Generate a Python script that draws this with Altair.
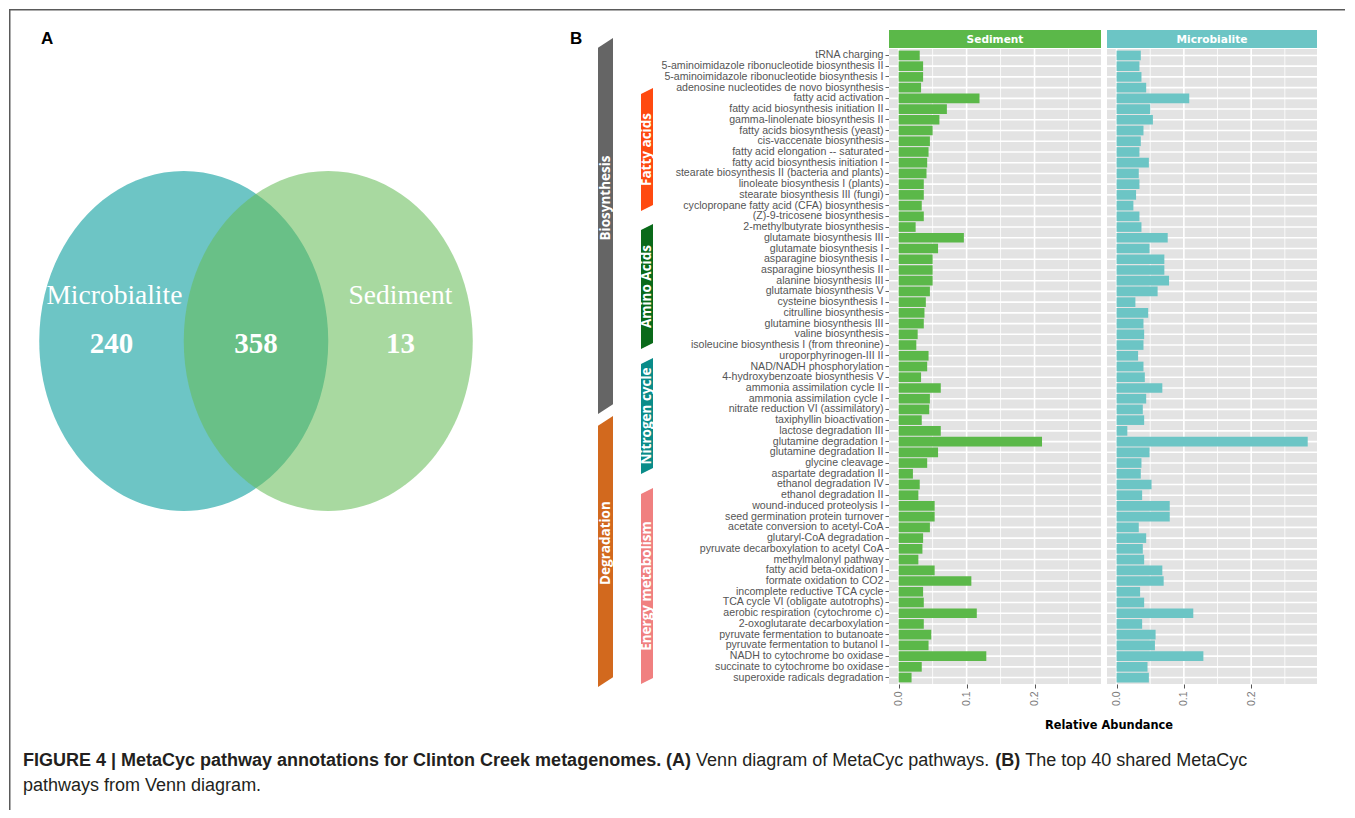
import altair as alt
import pandas as pd

# ---------------- data ----------------
pathways = [
    "tRNA charging",
    "5-aminoimidazole ribonucleotide biosynthesis II",
    "5-aminoimidazole ribonucleotide biosynthesis I",
    "adenosine nucleotides de novo biosynthesis",
    "fatty acid activation",
    "fatty acid biosynthesis initiation II",
    "gamma-linolenate biosynthesis II",
    "fatty acids biosynthesis (yeast)",
    "cis-vaccenate biosynthesis",
    "fatty acid elongation -- saturated",
    "fatty acid biosynthesis initiation I",
    "stearate biosynthesis II (bacteria and plants)",
    "linoleate biosynthesis I (plants)",
    "stearate biosynthesis III (fungi)",
    "cyclopropane fatty acid (CFA) biosynthesis",
    "(Z)-9-tricosene biosynthesis",
    "2-methylbutyrate biosynthesis",
    "glutamate biosynthesis III",
    "glutamate biosynthesis I",
    "asparagine biosynthesis I",
    "asparagine biosynthesis II",
    "alanine biosynthesis III",
    "glutamate biosynthesis V",
    "cysteine biosynthesis I",
    "citrulline biosynthesis",
    "glutamine biosynthesis III",
    "valine biosynthesis",
    "isoleucine biosynthesis I (from threonine)",
    "uroporphyrinogen-III II",
    "NAD/NADH phosphorylation",
    "4-hydroxybenzoate biosynthesis V",
    "ammonia assimilation cycle II",
    "ammonia assimilation cycle I",
    "nitrate reduction VI (assimilatory)",
    "taxiphyllin bioactivation",
    "lactose degradation III",
    "glutamine degradation I",
    "glutamine degradation II",
    "glycine cleavage",
    "aspartate degradation II",
    "ethanol degradation IV",
    "ethanol degradation II",
    "wound-induced proteolysis I",
    "seed germination protein turnover",
    "acetate conversion to acetyl-CoA",
    "glutaryl-CoA degradation",
    "pyruvate decarboxylation to acetyl CoA",
    "methylmalonyl pathway",
    "fatty acid beta-oxidation I",
    "formate oxidation to CO2",
    "incomplete reductive TCA cycle",
    "TCA cycle VI (obligate autotrophs)",
    "aerobic respiration (cytochrome c)",
    "2-oxoglutarate decarboxylation",
    "pyruvate fermentation to butanoate",
    "pyruvate fermentation to butanol I",
    "NADH to cytochrome bo oxidase",
    "succinate to cytochrome bo oxidase",
    "superoxide radicals degradation",
]

sediment = [
    0.031, 0.036, 0.036, 0.033, 0.119, 0.071, 0.060, 0.050, 0.046, 0.044,
    0.042, 0.041, 0.037, 0.037, 0.034, 0.037, 0.025, 0.096, 0.058, 0.050,
    0.050, 0.050, 0.046, 0.040, 0.038, 0.037, 0.028, 0.026, 0.044, 0.042,
    0.033, 0.062, 0.046, 0.045, 0.034, 0.062, 0.211, 0.058, 0.042, 0.021,
    0.031, 0.029, 0.053, 0.053, 0.046, 0.036, 0.035, 0.029, 0.053, 0.107,
    0.036, 0.037, 0.115, 0.037, 0.048, 0.044, 0.129, 0.034, 0.019,
]

microbialite = [
    0.036, 0.034, 0.037, 0.044, 0.108, 0.050, 0.054, 0.040, 0.036, 0.034,
    0.048, 0.033, 0.034, 0.029, 0.025, 0.034, 0.037, 0.076, 0.049, 0.071,
    0.071, 0.078, 0.061, 0.028, 0.047, 0.040, 0.041, 0.040, 0.032, 0.040,
    0.042, 0.068, 0.044, 0.039, 0.041, 0.016, 0.284, 0.049, 0.037, 0.036,
    0.052, 0.038, 0.079, 0.079, 0.033, 0.044, 0.039, 0.041, 0.068, 0.070,
    0.035, 0.041, 0.114, 0.038, 0.058, 0.057, 0.129, 0.046, 0.048,
]

x_major = [0.0, 0.1, 0.2]
x_minor = [0.05, 0.15, 0.25]

venn_sets = ["Microbialite", "Sediment"]
venn_counts = ["240", "358", "13"]

# pathway-group annotations, in row units (0 = first row centre)
major_groups = ["Biosynthesis", "Degradation"]
major_start = [-1.62, 33.62]
major_end = [33.43, 58.88]
major_label_at = [13.29, 45.46]
minor_groups = ["Fatty acids", "Amino Acids", "Nitrogen cycle", "Energy metabolism"]
minor_start = [3.04, 15.72, 28.21, 40.33]
minor_end = [14.5, 27.37, 39.02, 58.6]

# ---------------- styling / layout ----------------
SED_GREEN = "#5BB849"
MIC_TEAL = "#6CC5C5"
BG = "#E3E3E3"
FONT = "Liberation Sans"

W_VENN, W_ANN, W_SED, W_MIC = 572, 296, 212, 210
H = 675
BAND_TOP = 40
N = len(pathways)
P_IN, P_OUT = 0.1, 0.15
step = (H - BAND_TOP) / (N - P_IN + 2 * P_OUT)
first_centre = BAND_TOP + (P_OUT + (1 - P_IN) / 2) * step

ysc = alt.Scale(domain=pathways, range=[BAND_TOP, H], paddingInner=P_IN, paddingOuter=P_OUT)
xdom = [-0.0142, 0.2978]

one = pd.DataFrame({"k": [0]})


def panel(values, color, name, width, show_y):
    df = pd.DataFrame({"pathway": pathways, "value": values})
    xsc = alt.Scale(domain=xdom, nice=False, zero=False)
    xaxis = alt.Axis(values=x_major, format=".1f", labelAngle=270, labelFontSize=10.5,
                     labelColor="#7a7a7a", labelFont=FONT, tickSize=4, tickColor="#555555",
                     domain=False, grid=False, title=None, labelPadding=3)
    if show_y:
        yaxis = alt.Axis(labelFontSize=10.6, labelColor="#555555", labelFont=FONT,
                         labelLimit=0, tickSize=4, tickColor="#666666", domain=False,
                         grid=False, title=None, labelPadding=2)
    else:
        yaxis = None
    yenc = alt.Y("pathway:N", scale=ysc, axis=yaxis, title=None)

    bg = alt.Chart(one).mark_rect(color=BG).encode(
        x=alt.value(0), x2=alt.value(width), y=alt.value(BAND_TOP), y2=alt.value(H))
    vmaj = alt.Chart(pd.DataFrame({"v": x_major})).mark_rule(color="white", strokeWidth=1.6).encode(
        x=alt.X("v:Q", scale=xsc, axis=xaxis), y=alt.value(BAND_TOP), y2=alt.value(H))
    vmin = alt.Chart(pd.DataFrame({"v": x_minor})).mark_rule(color="white", strokeWidth=0.8).encode(
        x=alt.X("v:Q", scale=xsc, axis=xaxis), y=alt.value(BAND_TOP), y2=alt.value(H))
    hgrid = alt.Chart(df).mark_rule(color="white", strokeWidth=1.6).encode(
        y=yenc, x=alt.value(0), x2=alt.value(width))
    bars = alt.Chart(df).mark_bar(color=color).encode(
        y=yenc, x=alt.X("value:Q", scale=xsc, axis=xaxis), x2=alt.datum(0))
    strip = alt.Chart(one).mark_rect(color=color).encode(
        x=alt.value(0), x2=alt.value(width), y=alt.value(21), y2=alt.value(39))
    strip_t = alt.Chart(one).mark_text(text=name, color="white", font="DejaVu Sans",
                                       fontWeight="bold", fontSize=10.6, baseline="middle").encode(
        x=alt.value(width / 2), y=alt.value(30.5))
    layers = [bg, vmin, vmaj, hgrid, bars, strip, strip_t]
    if show_y:
        title = alt.Chart(one).mark_text(text="Relative Abundance", font="DejaVu Sans",
                                         fontWeight="bold", fontSize=11.4, color="black",
                                         baseline="alphabetic").encode(
            x=alt.value(width + 8), y=alt.value(720))
        layers.append(title)
    return alt.layer(*layers).properties(width=width, height=H)


sed_chart = panel(sediment, SED_GREEN, "Sediment", W_SED, True)
mic_chart = panel(microbialite, MIC_TEAL, "Microbialite", W_MIC, False)

# ---------------- annotation column ----------------
r0 = -first_centre / step
r1 = (H - first_centre) / step
ay = alt.Scale(domain=[r0, r1], nice=False, zero=False, reverse=True)
ax = alt.Scale(domain=[0, W_ANN], nice=False, zero=False)
lanes = {"major": (11, 26, 0.9), "minor": (54, 66, 0.55)}
grp_colors = {
    "Biosynthesis": "#656565", "Degradation": "#D2691E",
    "Fatty acids": "#FF4A10", "Amino Acids": "#0A6A1A",
    "Nitrogen cycle": "#0A8C89", "Energy metabolism": "#F08080",
}
poly, labs = [], []
for lane, names, starts, ends, centres in [
    ("major", major_groups, major_start, major_end, major_label_at),
    ("minor", minor_groups, minor_start, minor_end,
     [(a + b) / 2 for a, b in zip(minor_start, minor_end)]),
]:
    xl, xr, sh = lanes[lane]
    for nm, s, e, c in zip(names, starts, ends, centres):
        # sheared bar: left edge sits lower than right edge
        poly.append({"cat": nm, "x": xl, "y": s + sh, "y2": e})
        poly.append({"cat": nm, "x": xr, "y": s, "y2": e - sh})
        labs.append({"cat": nm, "yc": c, "xc": (xl + xr) / 2})
cat_scale = alt.Scale(domain=list(grp_colors), range=list(grp_colors.values()))
area = alt.Chart(pd.DataFrame(poly)).mark_area(orient="vertical", opacity=1, interpolate="linear").encode(
    x=alt.X("x:Q", scale=ax, axis=None),
    y=alt.Y("y:Q", scale=ay, axis=None, stack=None),
    y2="y2:Q",
    color=alt.Color("cat:N", scale=cat_scale, legend=None),
    detail="cat:N",
)
area_t = alt.Chart(pd.DataFrame(labs)).mark_text(
    angle=270, font="Open Sans", fontWeight="bold", fontSize=13.5, color="white",
    align="center", baseline="middle").encode(
    x=alt.X("xc:Q", scale=ax, axis=None), y=alt.Y("yc:Q", scale=ay, axis=None), text="cat:N")
annot_chart = alt.layer(area, area_t).properties(width=W_ANN, height=H)

# ---------------- Venn + frame + caption ----------------
H_VENN = 790
vx = alt.Scale(domain=[-247 / 144.5, (W_VENN - 247) / 144.5], nice=False, zero=False)
vy = alt.Scale(domain=[-332 / 170, (H_VENN - 332) / 170], nice=False, zero=False, reverse=True)
ellipse = "M -0.85,0 A 0.85,1 0 1,1 0.85,0 A 0.85,1 0 1,1 -0.85,0 Z"
sets_df = pd.DataFrame({"set": venn_sets, "cx": [-0.5, 0.5], "cy": [0, 0],
                        "lx": [-0.98, 1.0], "ly": [-0.22, -0.22]})
counts_df = pd.DataFrame({"n": venn_counts, "x": [-1.0, 0.0, 1.0], "y": [0.07, 0.07, 0.07]})
circles = alt.Chart(sets_df).mark_point(filled=True, shape=ellipse, size=115600, strokeWidth=0).encode(
    x=alt.X("cx:Q", scale=vx, axis=None), y=alt.Y("cy:Q", scale=vy, axis=None),
    color=alt.Color("set:N", scale=alt.Scale(domain=venn_sets, range=["#6DC5C5", "#66BC58"]), legend=None),
    opacity=alt.Opacity("set:N", scale=alt.Scale(domain=venn_sets, range=[1.0, 0.57]), legend=None),
)
set_names = alt.Chart(sets_df).mark_text(font="Liberation Serif", fontSize=27.5, color="white",
                                          baseline="alphabetic").encode(
    x=alt.X("lx:Q", scale=vx, axis=None), y=alt.Y("ly:Q", scale=vy, axis=None), text="set:N")
set_counts = alt.Chart(counts_df).mark_text(font="Liberation Serif", fontSize=29, fontWeight="bold",
                                             color="white", baseline="alphabetic").encode(
    x=alt.X("x:Q", scale=vx, axis=None), y=alt.Y("y:Q", scale=vy, axis=None), text="n:N")


def label(txt, x, y, size, weight="normal", color="black", align="left", font=FONT):
    return alt.Chart(one).mark_text(text=txt, fontSize=size, fontWeight=weight, color=color,
                                    align=align, baseline="alphabetic", font=font).encode(
        x=alt.value(x), y=alt.value(y))


frame_top = alt.Chart(one).mark_rule(color="#5a5a5a", strokeWidth=1.5).encode(
    x=alt.value(0), x2=alt.value(1336), y=alt.value(0.75))
frame_left = alt.Chart(one).mark_rule(color="#5a5a5a", strokeWidth=1.5).encode(
    x=alt.value(0.75), y=alt.value(0), y2=alt.value(801))

f = 18
sp = 0.278 * f
CAP = "#231F20"
x1 = 14
x2 = x1 + 35.45 * f + sp
x3 = x2 + 1.388 * f + sp
x4 = x3 + 16.34 * f + sp
x5 = x4 + 1.388 * f + sp
caption = [
    label("FIGURE 4 | MetaCyc pathway annotations for Clinton Creek metagenomes.", x1, 757, f, "bold", CAP),
    label("(A)", x2, 757, f, "bold", CAP),
    label("Venn diagram of MetaCyc pathways.", x3, 757, f, "normal", CAP),
    label("(B)", x4, 757, f, "bold", CAP),
    label("The top 40 shared MetaCyc", x5, 757, f, "normal", CAP),
    label("pathways from Venn diagram.", x1, 782, f, "normal", CAP),
]
panel_labels = [
    label("A", 32, 35, 17, "bold", "black"),
    label("B", 561, 35, 17, "bold", "black"),
]
venn_chart = alt.layer(circles, set_names, set_counts, frame_top, frame_left,
                       *panel_labels, *caption).properties(width=W_VENN, height=H_VENN)

chart = alt.hconcat(venn_chart, annot_chart, sed_chart, mic_chart, spacing=6, bounds="flush").resolve_scale(
    color="independent", opacity="independent"
).properties(
    padding=0
).configure(font=FONT).configure_view(stroke=None)

chart.save("out.html", embed_options={"renderer": "svg", "actions": False})
